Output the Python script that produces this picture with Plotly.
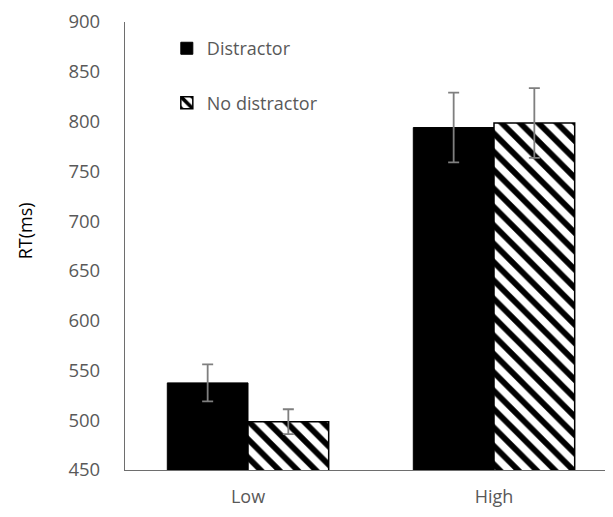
import plotly.graph_objects as go

categories = ["Low", "High"]
distractor = [537.5, 794]
distractor_err = [18.5, 35]
no_distractor = [498.5, 798.5]
no_distractor_err = [12.5, 35]
y_ticks = [450, 500, 550, 600, 650, 700, 750, 800, 850, 900]

font_family = "Open Sans, Liberation Sans, sans-serif"
grey_text = "#595959"
err_color = "#7f7f7f"

fig = go.Figure()
fig.add_trace(go.Bar(
    x=categories, y=distractor, name="Distractor",
    legendgroup="a",
    marker=dict(color="black", line=dict(color="black", width=1)),
    error_y=dict(type="data", array=distractor_err, color=err_color, thickness=1.8, width=5.5),
))
fig.add_trace(go.Bar(
    x=categories, y=no_distractor, name="No distractor",
    legendgroup="b",
    marker=dict(color="white", line=dict(color="black", width=1.5),
                pattern=dict(shape="\\", size=13, solidity=0.45, fgcolor="black",
                             fgopacity=1, bgcolor="white")),
    error_y=dict(type="data", array=no_distractor_err, color=err_color, thickness=1.8, width=5.5),
))

fig.update_layout(
    width=613, height=517,
    margin=dict(l=117, r=4, t=14, b=55),
    paper_bgcolor="white", plot_bgcolor="white",
    barmode="group", bargap=0.344, bargroupgap=0,
    font=dict(family=font_family, color=grey_text, size=18),
    showlegend=True,
    legend=dict(x=0.085, y=0.982, xanchor="left", yanchor="top",
                traceorder="grouped", tracegroupgap=28, itemwidth=30,
                font=dict(size=18, color=grey_text), bgcolor="rgba(0,0,0,0)"),
    yaxis=dict(range=[450, 900], tickvals=y_ticks, showgrid=False, zeroline=False,
               showline=True, linecolor="#6e6e6e", linewidth=1.3, ticks="",
               ticklabelstandoff=20, automargin=False,
               tickfont=dict(size=18.5, color=grey_text)),
    xaxis=dict(showgrid=False, zeroline=False, showline=True, linecolor="#6e6e6e",
               linewidth=1.3, ticks="", ticklabelstandoff=10, automargin=False,
               tickfont=dict(size=18, color=grey_text)),
    annotations=[dict(text="RT(ms)", textangle=-90, xref="paper", yref="paper",
                      x=-0.203, y=0.533, xanchor="center", yanchor="middle",
                      showarrow=False, font=dict(size=18, color="black"))],
)

fig.write_html("out.html")
